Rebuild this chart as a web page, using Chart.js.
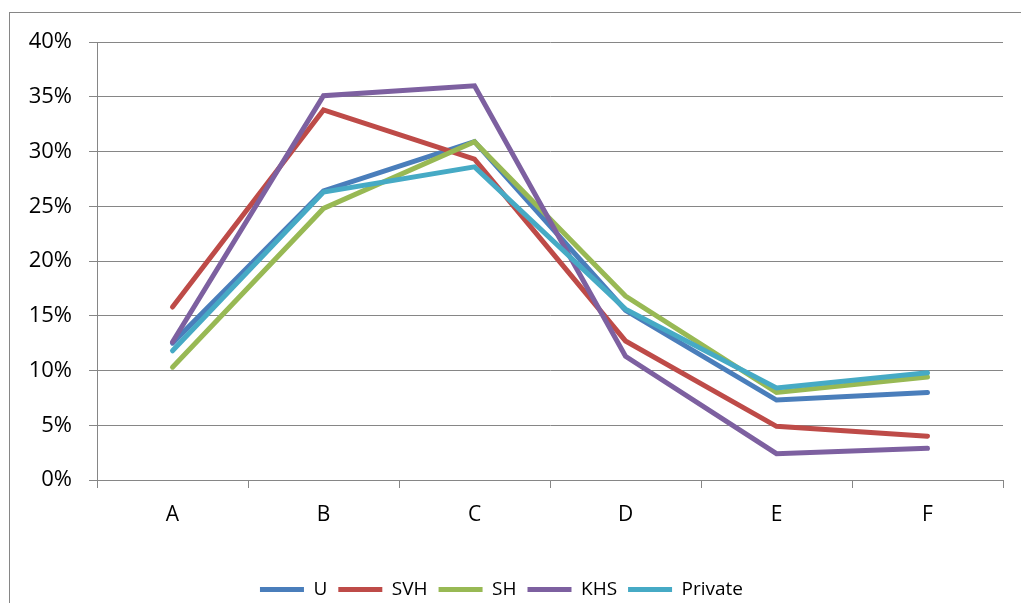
<!DOCTYPE html>
<html>
<head>
    <title>Chart</title>
    <script src="https://cdn.jsdelivr.net/npm/chart.js"></script>
    <style>
        body {
            margin: 0;
            padding: 0;
            background-color: #fff;
            overflow: hidden;
        }

        #frame {
            position: absolute;
            left: 9px;
            top: 12px;
            width: 1100px;
            height: 700px;
            border: 1px solid #868686;
        }

        #wrap {
            position: absolute;
            left: 0;
            top: 0;
            width: 1021px;
            height: 625px;
        }
    </style>
</head>
<body>
    <div id="frame"></div>
    <div id="wrap"><canvas id="myChart"></canvas></div>

    <script>
        var categorias = ['A', 'B', 'C', 'D', 'E', 'F'];
        var serieU = [12.5, 26.4, 30.9, 15.5, 7.3, 8.0];
        var serieSVH = [15.8, 33.8, 29.3, 12.7, 4.9, 4.0];
        var serieSH = [10.3, 24.8, 30.9, 16.8, 8.0, 9.4];
        var serieKHS = [12.6, 35.1, 36.0, 11.3, 2.4, 2.9];
        var seriePrivate = [11.8, 26.3, 28.6, 15.6, 8.4, 9.8];

        var nomes = ['U', 'SVH', 'SH', 'KHS', 'Private'];
        var cores = ['#4A7EBB', '#BE4B48', '#98B954', '#7D60A0', '#46AAC5'];
        var series = [serieU, serieSVH, serieSH, serieKHS, seriePrivate];

        var fonte = "'Open Sans', sans-serif";

        var datasets = series.map(function (dados, i) {
            return {
                label: nomes[i],
                data: dados,
                borderColor: cores[i],
                backgroundColor: cores[i],
                borderWidth: 5,
                borderCapStyle: 'round',
                borderJoinStyle: 'miter',
                pointRadius: 0,
                pointHoverRadius: 0,
                tension: 0,
                fill: false,
                order: series.length - i
            };
        });

        var ctx = document.getElementById('myChart').getContext('2d');
        var myChart = new Chart(ctx, {
            type: 'line',
            data: {
                labels: categorias,
                datasets: datasets
            },
            options: {
                responsive: true,
                maintainAspectRatio: false,
                animation: false,
                layout: {
                    padding: { top: 42, right: 18, bottom: 16, left: 0 }
                },
                plugins: {
                    tooltip: { enabled: false },
                    legend: {
                        position: 'bottom',
                        labels: {
                            usePointStyle: true,
                            pointStyle: 'line',
                            pointStyleWidth: 44,
                            boxHeight: 20,
                            padding: 11,
                            color: '#000',
                            font: { family: fonte, size: 19 },
                            sort: function (a, b) { return a.datasetIndex - b.datasetIndex; }
                        }
                    }
                },
                scales: {
                    x: {
                        offset: true,
                        grid: {
                            offset: true,
                            drawOnChartArea: false,
                            drawTicks: true,
                            tickLength: 8,
                            color: '#868686',
                            lineWidth: 1
                        },
                        border: { display: true, color: '#868686', width: 1 },
                        ticks: {
                            color: '#000',
                            padding: 14,
                            font: { family: fonte, size: 21 }
                        },
                        afterFit: function (scale) { scale.height = 89; }
                    },
                    y: {
                        min: 0,
                        max: 40,
                        ticks: {
                            stepSize: 5,
                            color: '#000',
                            padding: 17,
                            font: { family: fonte, size: 22 },
                            callback: function (v) { return v + '%'; }
                        },
                        grid: {
                            color: '#868686',
                            lineWidth: 1,
                            tickLength: 8
                        },
                        border: { display: true, color: '#868686', width: 1 },
                        afterFit: function (scale) { scale.width = 97; }
                    }
                }
            }
        });
    </script>
</body>
</html>
